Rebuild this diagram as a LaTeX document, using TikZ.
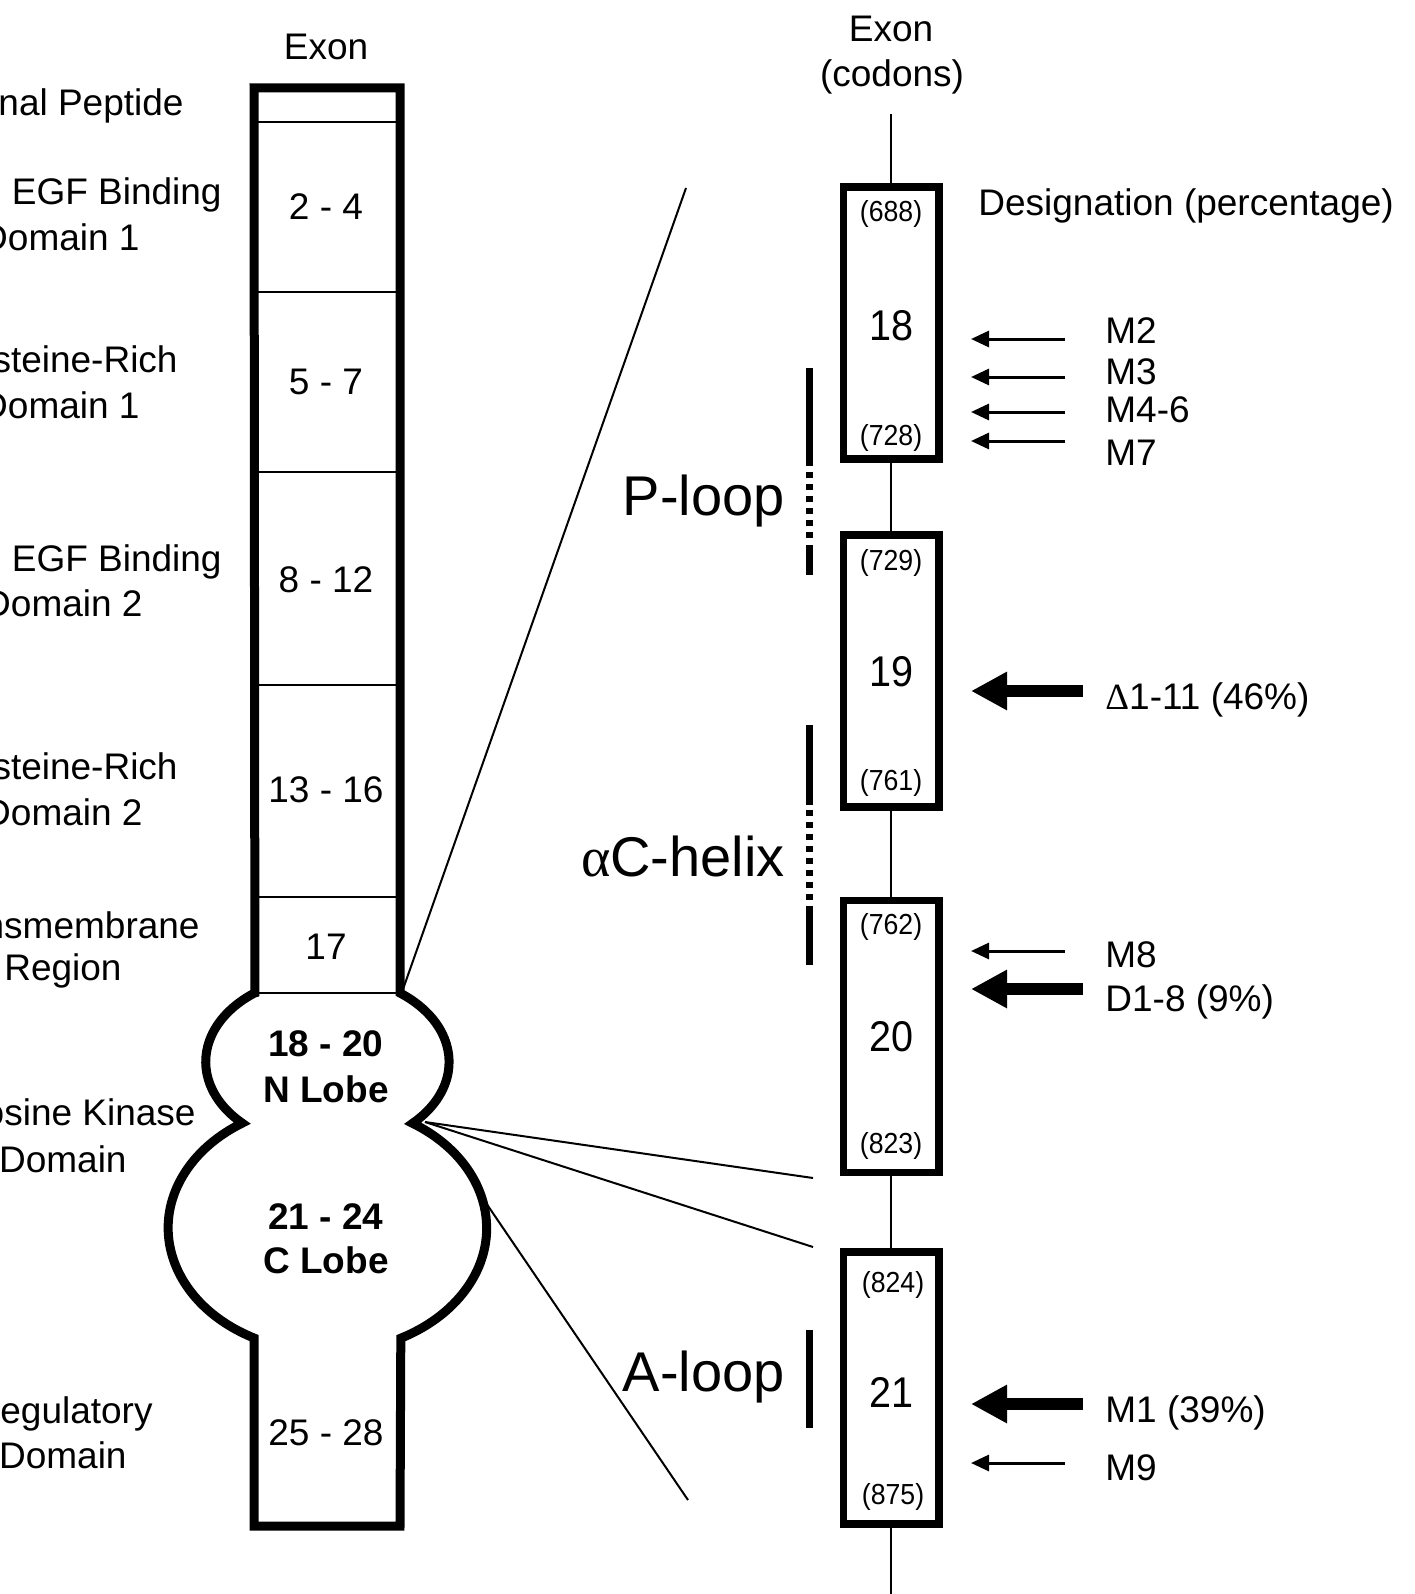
\documentclass[tikz,border=0pt]{standalone}
\usepackage{fontspec}
\setmainfont{Liberation Sans}
\newfontfamily\grfont{Liberation Serif}
\newfontfamily\narrowfont[FakeStretch=0.92]{Liberation Sans}
\usetikzlibrary{arrows.meta}
\begin{document}
\begin{tikzpicture}[x=0.5pt,y=-0.5pt,
  lab/.style={font=\fontsize{18.5pt}{22pt}\selectfont, inner sep=0pt},
  blab/.style={font=\bfseries\fontsize{18.5pt}{22pt}\selectfont, inner sep=0pt},
  big/.style={font=\fontsize{28pt}{32pt}\selectfont, inner sep=0pt},
  codon/.style={font=\narrowfont\fontsize{14.5pt}{16pt}\selectfont, inner sep=0pt},
  exnum/.style={font=\narrowfont\fontsize{21.5pt}{24pt}\selectfont, inner sep=0pt},
  colline/.style={line width=4.5pt},
  thinline/.style={line width=1pt},
  exbox/.style={draw, fill=white, line width=3.75pt, minimum width=47.75pt, minimum height=136pt, inner sep=0pt},
  bar/.style={line width=3.5pt},
  dotbar/.style={line width=3.5pt, dash pattern=on 3pt off 3pt},
  thinarrow/.style={line width=1.5pt, -{Triangle[length=9pt,width=8pt]}},
  thickarrow/.style={line width=6pt, -{Triangle[length=18pt,width=18pt]}}
]
\useasboundingbox (0,0) rectangle (1414,1594);
\clip (0,0) rectangle (1414,1594);

% ---------- left column ----------
\draw[colline] (254.9,992.8) -- (254,88) -- (400,88) -- (400,993)
  arc[start angle=-53.3, end angle=45.5, x radius=122, y radius=86]
  arc[start angle=-57.7, end angle=62.6, x radius=159, y radius=124]
  -- (400,1526) -- (254,1526) -- (254,1338)
  arc[start angle=117.4, end angle=237.7, x radius=159, y radius=124]
  arc[start angle=134.5, end angle=233.3, x radius=122, y radius=86]
  -- cycle;
\foreach \yy in {122,292,472,685,897,993} \draw[thinline] (254,\yy) -- (400,\yy);

\node[lab, anchor=base] (exL) at (326,60) {Exon};
\node[lab, anchor=base] (e24) at (326,220) {2 - 4};
\node[lab, anchor=base] (e57) at (326,394) {5 - 7};
\node[lab, anchor=base] (e812) at (326,592) {8 - 12};
\node[lab, anchor=base] (e1316) at (326,802) {13 - 16};
\node[lab, anchor=base] (e17) at (326,959) {17};
\node[blab, anchor=base] (e1820) at (326,1056) {18 - 20};
\node[blab, anchor=base] (nlobe) at (326,1102) {N Lobe};
\node[blab, anchor=base] (e2124) at (326,1229) {21 - 24};
\node[blab, anchor=base] (clobe) at (326,1273) {C Lobe};
\node[lab, anchor=base] (e2528) at (326,1445) {25 - 28};

\node[lab, anchor=base east] (l1) at (184,116) {Signal Peptide};
\node[lab, anchor=base east] (l2) at (222,205) {EGF Binding};
\node[lab, anchor=base east] (l3) at (140,250) {Domain 1};
\node[lab, anchor=base east] (l4) at (178,372) {Cysteine-Rich};
\node[lab, anchor=base east] (l5) at (140,418) {Domain 1};
\node[lab, anchor=base east] (l6) at (222,571) {EGF Binding};
\node[lab, anchor=base east] (l7) at (143,616) {Domain 2};
\node[lab, anchor=base east] (l8) at (178,779) {Cysteine-Rich};
\node[lab, anchor=base east] (l9) at (143,825) {Domain 2};
\node[lab, anchor=base east] (l10) at (200,938) {Transmembrane};
\node[lab, anchor=base east] (l11) at (122,980) {Region};
\node[lab, anchor=base east] (l12) at (196,1125) {Tyrosine Kinase};
\node[lab, anchor=base east] (l13) at (127,1172) {Domain};
\node[lab, anchor=base east] (l14) at (153,1423) {Regulatory};
\node[lab, anchor=base east] (l15) at (127,1468) {Domain};

% ---------- connectors ----------
\coordinate (tmc) at (402,992);
\coordinate (zt) at (686,188);
\coordinate (pinchR) at (425,1122);
\coordinate (z20b) at (813,1178);
\coordinate (z21t) at (813,1247);
\coordinate (clR) at (484,1200);
\coordinate (z21b) at (688,1500);
\draw[thinline] (tmc) -- (zt);
\draw[thinline] (pinchR) -- (z20b);
\draw[thinline] (pinchR) -- (z21t);
\draw[thinline] (clR) -- (z21b);

% ---------- right column ----------
\coordinate (vtop) at (891,114);
\coordinate (vbot) at (891,1594);
\draw[thinline] (vtop) -- (vbot);
\node[exbox] (b18) at (891.25,323) {};
\node[exbox] (b19) at (891.25,671) {};
\node[exbox] (b20) at (891.25,1036.5) {};
\node[exbox] (b21) at (891.25,1388) {};

\node[lab, anchor=base] (exR) at (891,41.5) {Exon};
\node[lab, anchor=base] (cod) at (892,87) {(codons)};
\node[lab, anchor=base west] (desig) at (978,216) {Designation (percentage)};

\node[codon] (c688) at (891,214) {(688)};
\node[codon] (c728) at (891,438) {(728)};
\node[codon] (c729) at (891,563) {(729)};
\node[codon] (c761) at (891,783) {(761)};
\node[codon] (c762) at (891,927) {(762)};
\node[codon] (c823) at (891,1146) {(823)};
\node[codon] (c824) at (893,1285) {(824)};
\node[codon] (c875) at (893,1497) {(875)};

\node[exnum] (n18) at (891,326) {18};
\node[exnum] (n19) at (891,672) {19};
\node[exnum] (n20) at (891,1037) {20};
\node[exnum] (n21) at (891,1392) {21};

% domain bars
\coordinate (p1) at (809,368); \coordinate (p2) at (809,466);
\coordinate (p3) at (809,472); \coordinate (p4) at (809,540);
\coordinate (p5) at (809,545); \coordinate (p6) at (809,575);
\draw[bar] (p1) -- (p2);
\draw[dotbar] (p3) -- (p4);
\draw[bar] (p5) -- (p6);
\coordinate (h1) at (809,725); \coordinate (h2) at (809,805);
\coordinate (h3) at (809,810); \coordinate (h4) at (809,900);
\coordinate (h5) at (809,906); \coordinate (h6) at (809,965);
\draw[bar] (h1) -- (h2);
\draw[dotbar] (h3) -- (h4);
\draw[bar] (h5) -- (h6);
\coordinate (a1) at (809,1330); \coordinate (a2) at (809,1428);
\draw[bar] (a1) -- (a2);

\node[big, anchor=base east] (ploop) at (785,515) {P-loop};
\node[big, anchor=base east] (achelix) at (785,876) {{\grfont α}C-helix};
\node[big, anchor=base east] (aloop) at (785,1391) {A-loop};

% arrows
\foreach \nm/\yy in {m2/339, m3/377, m46/412, m7/441, m8/951, m9/1463} {
  \coordinate (\nm t) at (1065,\yy);
  \coordinate (\nm h) at (971,\yy);
  \draw[thinarrow] (\nm t) -- (\nm h);
}
\foreach \nm/\yy in {d111/691, d18/989, m1/1404} {
  \coordinate (\nm t) at (1083,\yy);
  \coordinate (\nm h) at (971,\yy);
  \draw[thickarrow] (\nm t) -- (\nm h);
}

\node[lab, anchor=base west] (lm2) at (1105,343) {M2};
\node[lab, anchor=base west] (lm3) at (1105,384) {M3};
\node[lab, anchor=base west] (lm46) at (1105,422) {M4-6};
\node[lab, anchor=base west] (lm7) at (1105,465) {M7};
\node[lab, anchor=base west] (ld111) at (1105,709) {{\grfont Δ}1-11 (46\%)};
\node[lab, anchor=base west] (lm8) at (1105,967) {M8};
\node[lab, anchor=base west] (ld18) at (1105,1011) {D1-8 (9\%)};
\node[lab, anchor=base west] (lm1) at (1105,1422) {M1 (39\%)};
\node[lab, anchor=base west] (lm9) at (1105,1480) {M9};
\end{tikzpicture}
\end{document}
